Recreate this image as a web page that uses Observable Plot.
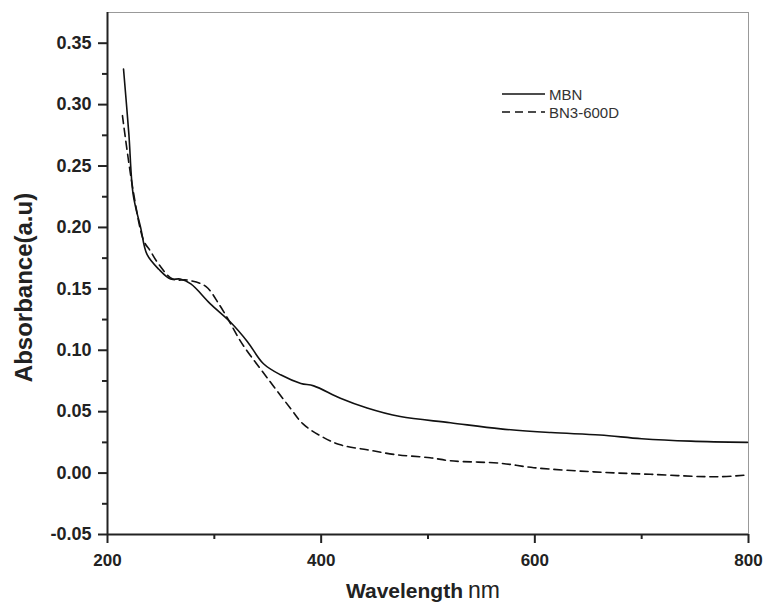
<!DOCTYPE html>
<html>
<head>
<meta charset="utf-8">
<script src="https://cdn.jsdelivr.net/npm/d3@7"></script>
<script src="https://cdn.jsdelivr.net/npm/@observablehq/plot@0.6"></script>
<style>
  html, body { margin: 0; padding: 0; background: #fff; }
  #wrap { position: relative; width: 766px; height: 602px; }
  #legend { position: absolute; left: 502px; top: 85px; font-family: "Liberation Sans Narrow", "Arial Narrow", "Liberation Sans", Arial, sans-serif; font-size: 15px; color: #333; }
  #legend .row { display: flex; align-items: center; height: 18px; }
  #legend svg { margin-right: 3px; }
</style>
</head>
<body>
<div id="wrap"><div id="legend"></div></div>
<script>
const seriesNames = ["MBN", "BN3-600D"];
const seriesDash = ["none", "8,5"];

const wavelengthMBN = [215, 220, 224, 231, 237, 248, 259, 268, 278, 296, 315, 331, 346, 362, 381, 393, 418, 443, 474, 521, 568, 615, 661, 700, 746, 799];
const absorbanceMBN = [0.329, 0.276, 0.227, 0.200, 0.178, 0.166, 0.158, 0.158, 0.154, 0.138, 0.123, 0.107, 0.089, 0.080, 0.073, 0.071, 0.061, 0.053, 0.046, 0.041, 0.036, 0.033, 0.031, 0.028, 0.026, 0.025];

const wavelengthBN = [214, 224, 234, 240, 248, 261, 276, 292, 304, 315, 324, 331, 350, 371, 383, 400, 418, 443, 470, 502, 521, 568, 599, 655, 708, 771, 799];
const absorbanceBN = [0.291, 0.230, 0.189, 0.181, 0.170, 0.158, 0.157, 0.152, 0.138, 0.122, 0.108, 0.099, 0.077, 0.053, 0.040, 0.030, 0.023, 0.019, 0.015, 0.0125, 0.010, 0.008, 0.0044, 0.001, -0.001, -0.003, -0.0015];

const xTicks = [200, 400, 600, 800];
const xMinor = [300, 500, 700];
const yTicks = [-0.05, 0.00, 0.05, 0.10, 0.15, 0.20, 0.25, 0.30, 0.35];
const yMinor = [-0.025, 0.025, 0.075, 0.125, 0.175, 0.225, 0.275, 0.325];
const yTop = 0.375;

const xTitle = "Wavelength";
const xUnit = "nm";
const yTitle = "Absorbance(a.u)";

const mbn = wavelengthMBN.map((w, i) => ({w, a: absorbanceMBN[i]}));
const bn = wavelengthBN.map((w, i) => ({w, a: absorbanceBN[i]}));

const font = "'Liberation Sans', Arial, sans-serif";
const ink = "#222";

const chart = Plot.plot({
  width: 766,
  height: 602,
  marginLeft: 107,
  marginRight: 18,
  marginTop: 12,
  marginBottom: 68,
  x: {domain: [xTicks[0], xTicks[xTicks.length - 1]]},
  y: {domain: [yTicks[0], yTop]},
  style: {fontFamily: font, background: "white", color: ink},
  marks: [
    Plot.frame({stroke: "#999", strokeWidth: 1}),
    Plot.line(mbn, {x: "w", y: "a", stroke: "#111", strokeWidth: 1.6, curve: "catmull-rom"}),
    Plot.line(bn, {x: "w", y: "a", stroke: "#111", strokeWidth: 1.6, strokeDasharray: seriesDash[1], curve: "catmull-rom"}),
    Plot.axisX(xTicks, {tickSize: 9, tickPadding: 10, fontSize: 17, fontWeight: "bold", label: null, stroke: ink, strokeWidth: 2, fill: ink}),
    Plot.axisX(xMinor, {tickSize: 5, text: null, label: null, stroke: ink, strokeWidth: 2}),
    Plot.axisY(yTicks, {tickSize: 9, tickPadding: 7, fontSize: 18, fontWeight: "bold", label: null, stroke: ink, strokeWidth: 2, fill: ink, tickFormat: d => d.toFixed(2)}),
    Plot.axisY(yMinor, {tickSize: 5, text: null, label: null, stroke: ink, strokeWidth: 2}),
    Plot.ruleY([yTicks[0]], {stroke: ink, strokeWidth: 2}),
    Plot.ruleX([xTicks[0]], {stroke: ink, strokeWidth: 2}),
    Plot.text([yTitle], {frameAnchor: "left", rotate: -90, textAnchor: "middle", dx: -83, dy: 14, fontSize: 24, fontWeight: "bold", fill: ink}),
    Plot.text([xTitle], {frameAnchor: "bottom", dy: 63, dx: 35, textAnchor: "end", fontSize: 21, fontWeight: "bold", fill: ink}),
    Plot.text([xUnit], {frameAnchor: "bottom", dy: 63, dx: 40, textAnchor: "start", fontSize: 23, fill: ink, fontFamily: "'Liberation Sans Narrow', 'Arial Narrow', " + font})
  ]
});

document.getElementById("wrap").insertBefore(chart, document.getElementById("legend"));

const legend = d3.select("#legend");
seriesNames.forEach((name, i) => {
  const row = legend.append("div").attr("class", "row");
  const svg = row.append("svg").attr("width", 44).attr("height", 10);
  svg.append("line").attr("x1", 0).attr("x2", 43).attr("y1", 5).attr("y2", 5)
    .attr("stroke", "#111").attr("stroke-width", 1.5)
    .attr("stroke-dasharray", seriesDash[i]);
  row.append("span").text(name);
});
</script>
</body>
</html>
